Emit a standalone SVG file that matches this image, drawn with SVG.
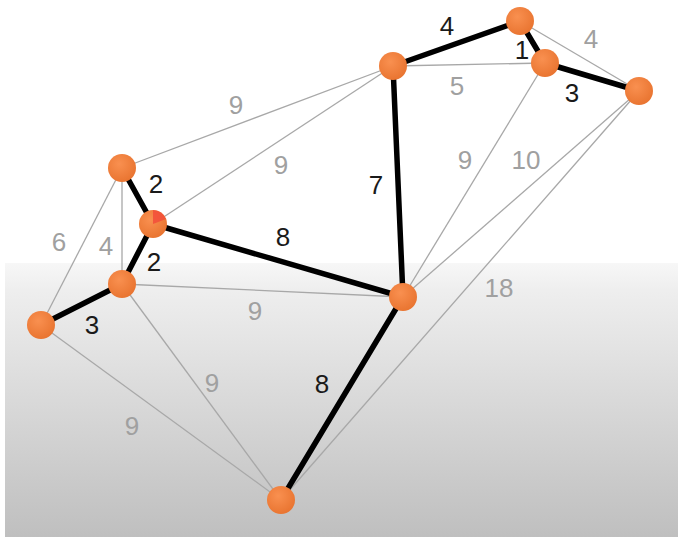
<svg xmlns="http://www.w3.org/2000/svg" width="678" height="537" viewBox="0 0 678 537">
<defs>
<linearGradient id="bg" x1="0" y1="0" x2="0" y2="1">
<stop offset="0" stop-color="#f7f7f7"/>
<stop offset="0.1" stop-color="#eeeeee"/>
<stop offset="1" stop-color="#bfbfbf"/>
</linearGradient>
<radialGradient id="nd" cx="0.4" cy="0.35" r="0.7">
<stop offset="0" stop-color="#f99050"/>
<stop offset="1" stop-color="#e8732f"/>
</radialGradient>
<style>
.thin{stroke:#a8a8a8;stroke-width:1.3;fill:none}
.bold{stroke:#000;stroke-width:5.5;fill:none;stroke-linecap:round}
.node{fill:url(#nd)}
.lg{font-family:"Liberation Sans",Arial,sans-serif;font-size:26px;fill:#a0a0a0;text-anchor:middle;dominant-baseline:central}
.lb{font-family:"Liberation Sans",Arial,sans-serif;font-size:26px;fill:#1a1a1a;text-anchor:middle;dominant-baseline:central}
</style>
</defs>
<rect width="678" height="537" fill="#ffffff"/>
<rect x="5" y="263" width="673" height="274" fill="url(#bg)"/>
<g id="connectors">
<line class="thin" x1="520" y1="21" x2="639" y2="91"/>
<line class="thin" x1="393" y1="66" x2="545" y2="63"/>
<line class="thin" x1="122" y1="168" x2="393" y2="66"/>
<line class="thin" x1="153" y1="224" x2="393" y2="66"/>
<line class="thin" x1="122" y1="168" x2="122" y2="284"/>
<line class="thin" x1="122" y1="168" x2="41" y2="325"/>
<line class="thin" x1="122" y1="284" x2="403" y2="297"/>
<line class="thin" x1="545" y1="63" x2="403" y2="297"/>
<line class="thin" x1="639" y1="91" x2="403" y2="297"/>
<line class="thin" x1="639" y1="91" x2="281" y2="500"/>
<line class="thin" x1="122" y1="284" x2="281" y2="500"/>
<line class="thin" x1="41" y1="325" x2="281" y2="500"/>
<line class="bold" x1="393" y1="66" x2="520" y2="21"/>
<line class="bold" x1="520" y1="21" x2="545" y2="63"/>
<line class="bold" x1="545" y1="63" x2="639" y2="91"/>
<line class="bold" x1="393" y1="66" x2="403" y2="297"/>
<line class="bold" x1="122" y1="168" x2="153" y2="224"/>
<line class="bold" x1="153" y1="224" x2="122" y2="284"/>
<line class="bold" x1="153" y1="224" x2="403" y2="297"/>
<line class="bold" x1="41" y1="325" x2="122" y2="284"/>
<line class="bold" x1="403" y1="297" x2="281" y2="500"/>
</g>
<g id="labels">
<text class="lb" x="447" y="26">4</text>
<text class="lb" x="522" y="50">1</text>
<text class="lg" x="591" y="39">4</text>
<text class="lg" x="457" y="86">5</text>
<text class="lb" x="572" y="93">3</text>
<text class="lg" x="236" y="105">9</text>
<text class="lg" x="281" y="165">9</text>
<text class="lb" x="376" y="185">7</text>
<text class="lg" x="465" y="160">9</text>
<text class="lg" x="526" y="160">10</text>
<text class="lb" x="156" y="184">2</text>
<text class="lb" x="154" y="262">2</text>
<text class="lb" x="283" y="237">8</text>
<text class="lg" x="59" y="242">6</text>
<text class="lg" x="106" y="246">4</text>
<text class="lb" x="92" y="325">3</text>
<text class="lg" x="255" y="311">9</text>
<text class="lg" x="499" y="288">18</text>
<text class="lg" x="212" y="383">9</text>
<text class="lb" x="322" y="384">8</text>
<text class="lg" x="132" y="426">9</text>
</g>
<g id="nA"><circle class="node" cx="520" cy="21" r="14"/></g>
<g id="nB"><circle class="node" cx="545" cy="63" r="14"/></g>
<g id="nC"><circle class="node" cx="639" cy="91" r="14"/></g>
<g id="nD"><circle class="node" cx="393" cy="66" r="14"/></g>
<g id="nE"><circle class="node" cx="122" cy="168" r="14"/></g>
<g id="nF"><circle class="node" cx="153" cy="224" r="14"/><path d="M153 224 L153 210 A14 14 0 0 1 166 219 Z" fill="#f24a3a" opacity="0.8"/></g>
<g id="nG"><circle class="node" cx="122" cy="284" r="14"/></g>
<g id="nH"><circle class="node" cx="41" cy="325" r="14"/></g>
<g id="nI"><circle class="node" cx="403" cy="297" r="14"/></g>
<g id="nJ"><circle class="node" cx="281" cy="500" r="14"/></g>
</svg>
